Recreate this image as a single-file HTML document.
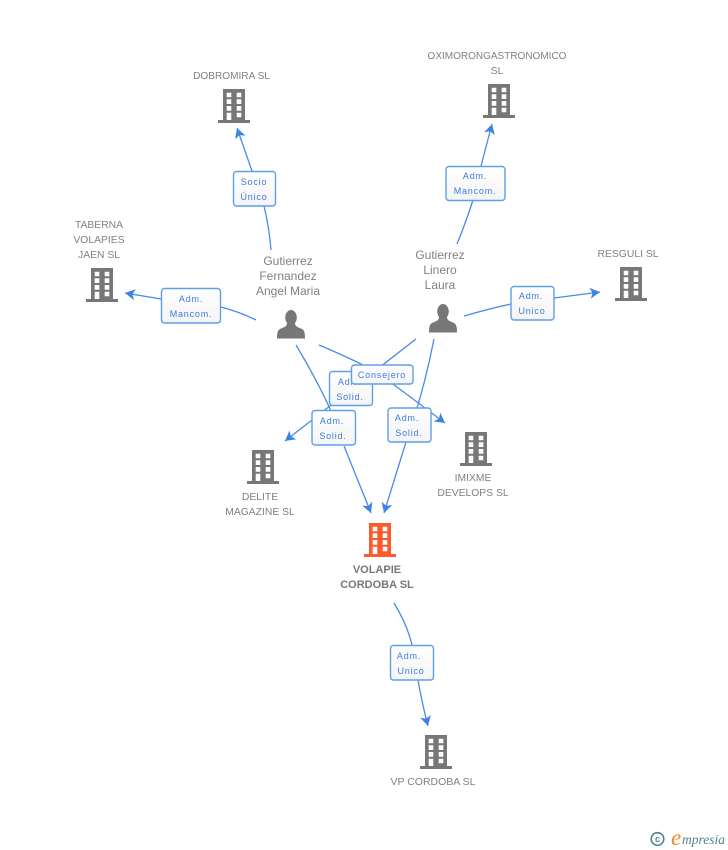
<!DOCTYPE html>
<html>
<head>
<meta charset="utf-8">
<style>
html,body{margin:0;padding:0;background:#fff;width:728px;height:850px;overflow:hidden}
svg{display:block}
.c{font:10.35px "Liberation Sans",sans-serif;fill:#808080;text-anchor:middle}
.p{font:12px "Liberation Sans",sans-serif;fill:#808080;text-anchor:middle}
.b{font:bold 11px "Liberation Sans",sans-serif;fill:#777;text-anchor:middle}
.l{font:9px "Liberation Sans",sans-serif;fill:#3a7be0;text-anchor:middle;letter-spacing:.8px}
.e{fill:none;stroke:#4a8ae8;stroke-width:1.3}
.r{fill:url(#g);stroke:#5f9fe8;stroke-width:1.4}
</style>
</head>
<body>
<svg width="728" height="850" viewBox="0 0 728 850" xmlns="http://www.w3.org/2000/svg">
<defs>
<linearGradient id="g" x1="0" y1="0" x2="0" y2="1"><stop offset="0" stop-color="#fff"/><stop offset="1" stop-color="#f4f4f4"/></linearGradient>
<marker id="a" markerUnits="userSpaceOnUse" markerWidth="12" markerHeight="12" refX="10" refY="6" orient="auto">
<path d="M10 6L0 0.500L2.500 6L0 11.500Z" fill="#3d83e6"/>
</marker>
<symbol id="bd" width="32" height="34" viewBox="0 0 32 34">
<path fill-rule="evenodd" d="M5 0H27V31H32V34H0V31H5ZM8.700 3.700V8.300H13.300V3.700ZM18.700 3.700V8.300H23.300V3.700ZM8.700 10.300V15H13.300V10.300ZM18.700 10.300V15H23.300V10.300ZM8.700 17V21.700H13.300V17ZM18.700 17V21.700H23.300V17ZM8.700 23.700V31H13.300V23.700ZM18.700 23.700V28.300H23.300V23.700Z"/>
</symbol>
<symbol id="pr" width="28" height="29" viewBox="0 0 28 29">
<ellipse cx="14" cy="7.500" rx="5.800" ry="7.500" fill="#777"/>
<path d="M10 13C10 16 8 17 4 18.500C1 19.800 0 21.500 0 28.500H28C28 21.500 27 19.800 24 18.500C20 17 18 16 18 13Z" fill="#777"/>
</symbol>
</defs>

<!-- connectors -->
<path class="e" d="M271 250Q269 226 264 206"/>
<path class="e" d="M252 171L237 128" marker-end="url(#a)"/>
<path class="e" d="M256 320Q240 312 221 307"/>
<path class="e" d="M161 299L125 293" marker-end="url(#a)"/>
<path class="e" d="M457 244Q466 222 473 200"/>
<path class="e" d="M481 166L492 124" marker-end="url(#a)"/>
<path class="e" d="M464 316Q488 309 511 304"/>
<path class="e" d="M554 298L600 292" marker-end="url(#a)"/>
<path class="e" d="M296 345Q316 378 331 411"/>
<path class="e" d="M344 446L371 513" marker-end="url(#a)"/>
<path class="e" d="M416 339L285 441" marker-end="url(#a)"/>
<path class="e" d="M319 345Q345 356 363 365"/>
<path class="e" d="M393 384L445 423" marker-end="url(#a)"/>
<path class="e" d="M434 339Q427 375 417 408"/>
<path class="e" d="M406 442L384 513" marker-end="url(#a)"/>
<path class="e" d="M394 603Q407 624 412 645"/>
<path class="e" d="M418 680Q422 703 428 726" marker-end="url(#a)"/>

<!-- label boxes -->
<rect class="r" x="233.500" y="171.500" width="42" height="34.500" rx="3"/>
<text class="l" x="254" y="185">Socio</text><text class="l" x="254" y="200">Único</text>

<rect class="r" x="161.500" y="288.500" width="59" height="34.500" rx="3"/>
<text class="l" x="191" y="302">Adm.</text><text class="l" x="191" y="317">Mancom.</text>

<rect class="r" x="446" y="166.500" width="59" height="34" rx="3"/>
<text class="l" x="475" y="179">Adm.</text><text class="l" x="475" y="194">Mancom.</text>

<rect class="r" x="511" y="286.500" width="43" height="33.500" rx="3"/>
<text class="l" x="531" y="299">Adm.</text><text class="l" x="532" y="314">Unico</text>

<rect class="r" x="329.500" y="371.500" width="43" height="34" rx="3"/>
<text class="l" x="350" y="385">Adm.</text><text class="l" x="350" y="400">Solid.</text>

<rect class="r" x="312" y="410.500" width="43.500" height="34.500" rx="3"/>
<text class="l" x="332" y="424">Adm.</text><text class="l" x="333" y="439">Solid.</text>

<rect class="r" x="351.500" y="365" width="61.500" height="19" rx="3"/>
<text class="l" x="382" y="378">Consejero</text>

<rect class="r" x="388" y="408" width="43" height="34" rx="3"/>
<text class="l" x="407" y="421">Adm.</text><text class="l" x="409" y="436">Solid.</text>

<rect class="r" x="390.500" y="645.500" width="43" height="34.500" rx="3"/>
<text class="l" x="409" y="659">Adm.</text><text class="l" x="411" y="674">Unico</text>

<!-- buildings -->
<g fill="#777">
<use href="#bd" x="218" y="89"/>
<use href="#bd" x="483" y="84"/>
<use href="#bd" x="86" y="268"/>
<use href="#bd" x="615" y="267"/>
<use href="#bd" x="247" y="450"/>
<use href="#bd" x="460" y="432"/>
<use href="#bd" x="420" y="735"/>
</g>
<use href="#bd" x="364" y="523" fill="#ff5a2b"/>

<!-- people -->
<use href="#pr" x="277" y="310"/>
<use href="#pr" x="429" y="304"/>

<!-- names -->
<text class="c" x="231.500" y="79" style="font-size:10.1px">DOBROMIRA SL</text>
<text class="c" x="497" y="59" style="font-size:10px">OXIMORONGASTRONOMICO</text>
<text class="c" x="497" y="74">SL</text>
<text class="c" x="99" y="228">TABERNA</text>
<text class="c" x="99" y="243">VOLAPIES</text>
<text class="c" x="99" y="258">JAEN SL</text>
<text class="c" x="628" y="257">RESGULI SL</text>
<text class="c" x="260" y="500">DELITE</text>
<text class="c" x="260" y="515">MAGAZINE SL</text>
<text class="c" x="473" y="481">IMIXME</text>
<text class="c" x="473" y="496">DEVELOPS SL</text>
<text class="c" x="433" y="785" style="font-size:10.5px">VP CORDOBA SL</text>
<text class="b" x="377" y="573">VOLAPIE</text>
<text class="b" x="377" y="588">CORDOBA SL</text>
<text class="p" x="288" y="265">Gutierrez</text>
<text class="p" x="288" y="280">Fernandez</text>
<text class="p" x="288" y="295">Angel Maria</text>
<text class="p" x="440" y="259">Gutierrez</text>
<text class="p" x="440" y="274">Linero</text>
<text class="p" x="440" y="289">Laura</text>

<!-- watermark -->
<circle cx="657.500" cy="839" r="6.300" fill="none" stroke="#4f8494" stroke-width="1.600"/>
<text x="657.500" y="842" font-family="Liberation Sans, sans-serif" font-size="9" font-weight="bold" fill="#4f8494" text-anchor="middle">c</text>
<text x="671" y="845" font-family="Liberation Serif, serif" font-size="23" font-style="italic" fill="#f08a24">e</text>
<text x="682" y="844" font-family="Liberation Serif, serif" font-size="13.500" font-style="italic" fill="#4f8494">mpresia</text>
</svg>
</body>
</html>
